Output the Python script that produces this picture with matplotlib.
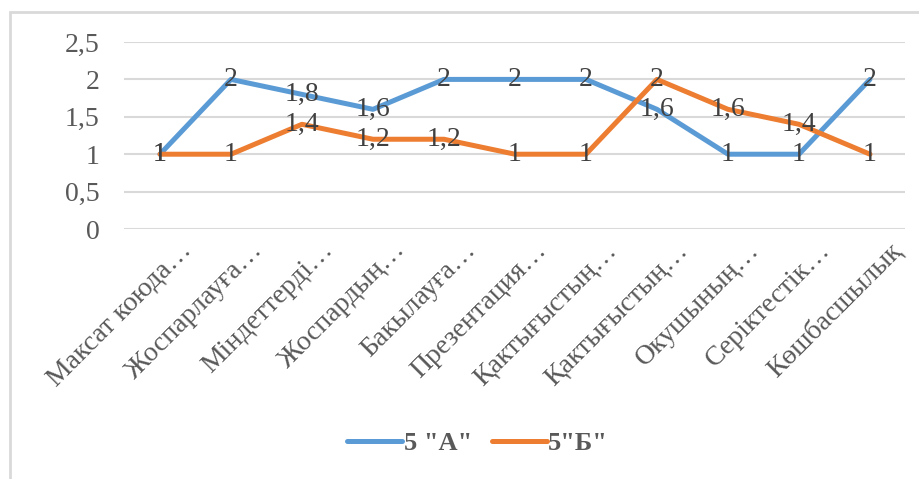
import matplotlib.pyplot as plt
import matplotlib.transforms as mtransforms
from matplotlib.patches import Rectangle

categories = ["Максат коюда…", "Жоспарлауға…", "Міндеттерді…", "Жоспардың…",
              "Бакылауға…", "Презентация…", "Қактығыстың…", "Қактығыстың…",
              "Окушының…", "Серіктестік…", "Көшбасшылық"]
class_a = [1, 2, 1.8, 1.6, 2, 2, 2, 1.6, 1, 1, 2]
class_b = [1, 1, 1.4, 1.2, 1.2, 1, 1, 2, 1.6, 1.4, 1]
y_ticks = [0, 0.5, 1, 1.5, 2, 2.5]

plt.rcParams['font.family'] = ['Liberation Serif', 'DejaVu Serif']

blue = '#5B9BD5'
orange = '#ED7D31'
grey_txt = '#595959'

fig = plt.figure(figsize=(9.2, 4.79), dpi=100)
ax = fig.add_axes([0.1353, 0.5219, 0.8489, 0.3904])

x = list(range(len(categories)))
ax.plot(x, class_a, color=blue, lw=3.6, label='5 "А"', solid_capstyle='round', zorder=3)
ax.plot(x, class_b, color=orange, lw=3.6, label='5"Б"', solid_capstyle='round', zorder=3)

def fmt(v):
    s = ('%g' % v).replace('.', ',')
    return s

for xs, ys in [(x, class_a), (x, class_b)]:
    for xi, yi in zip(xs, ys):
        ax.text(xi, yi, fmt(yi), ha='center', va='center', fontsize=20,
                color='#404040', zorder=4)

ax.set_xlim(-0.5, len(categories) - 0.5)
ax.set_ylim(0, 2.5)
ax.set_yticks(y_ticks)
ax.set_yticklabels([fmt(t) for t in y_ticks], fontsize=20, color=grey_txt)
ax.yaxis.grid(True, color='#D9D9D9', lw=1.5)
ax.set_axisbelow(True)
ax.tick_params(axis='both', length=0)
ax.tick_params(axis='y', pad=18)
for s in ax.spines.values():
    s.set_visible(False)

ax.set_xticks(x)
ax.set_xticklabels(categories, fontsize=20, color=grey_txt, rotation=45,
                   ha='right', va='top', rotation_mode='anchor')
offset = mtransforms.ScaledTranslation(0.19, -0.04, fig.dpi_scale_trans)
for lab in ax.get_xticklabels():
    lab.set_transform(lab.get_transform() + offset)

leg = fig.legend(loc='center', bbox_to_anchor=(0.519, 0.075), ncol=2, frameon=False,
                 prop={'weight': 'bold', 'size': 19}, handlelength=2.1,
                 columnspacing=0.75, handletextpad=0.05)
for t in leg.get_texts():
    t.set_color(grey_txt)
for h in leg.legend_handles:
    h.set_solid_capstyle('round')

fig.patches.append(Rectangle((10 / 920, -0.1), 1.2, 1 - 12 / 479 + 0.1,
                             transform=fig.transFigure, fill=False,
                             edgecolor='#D9D9D9', lw=2))

fig.savefig('out.png', dpi=100)
